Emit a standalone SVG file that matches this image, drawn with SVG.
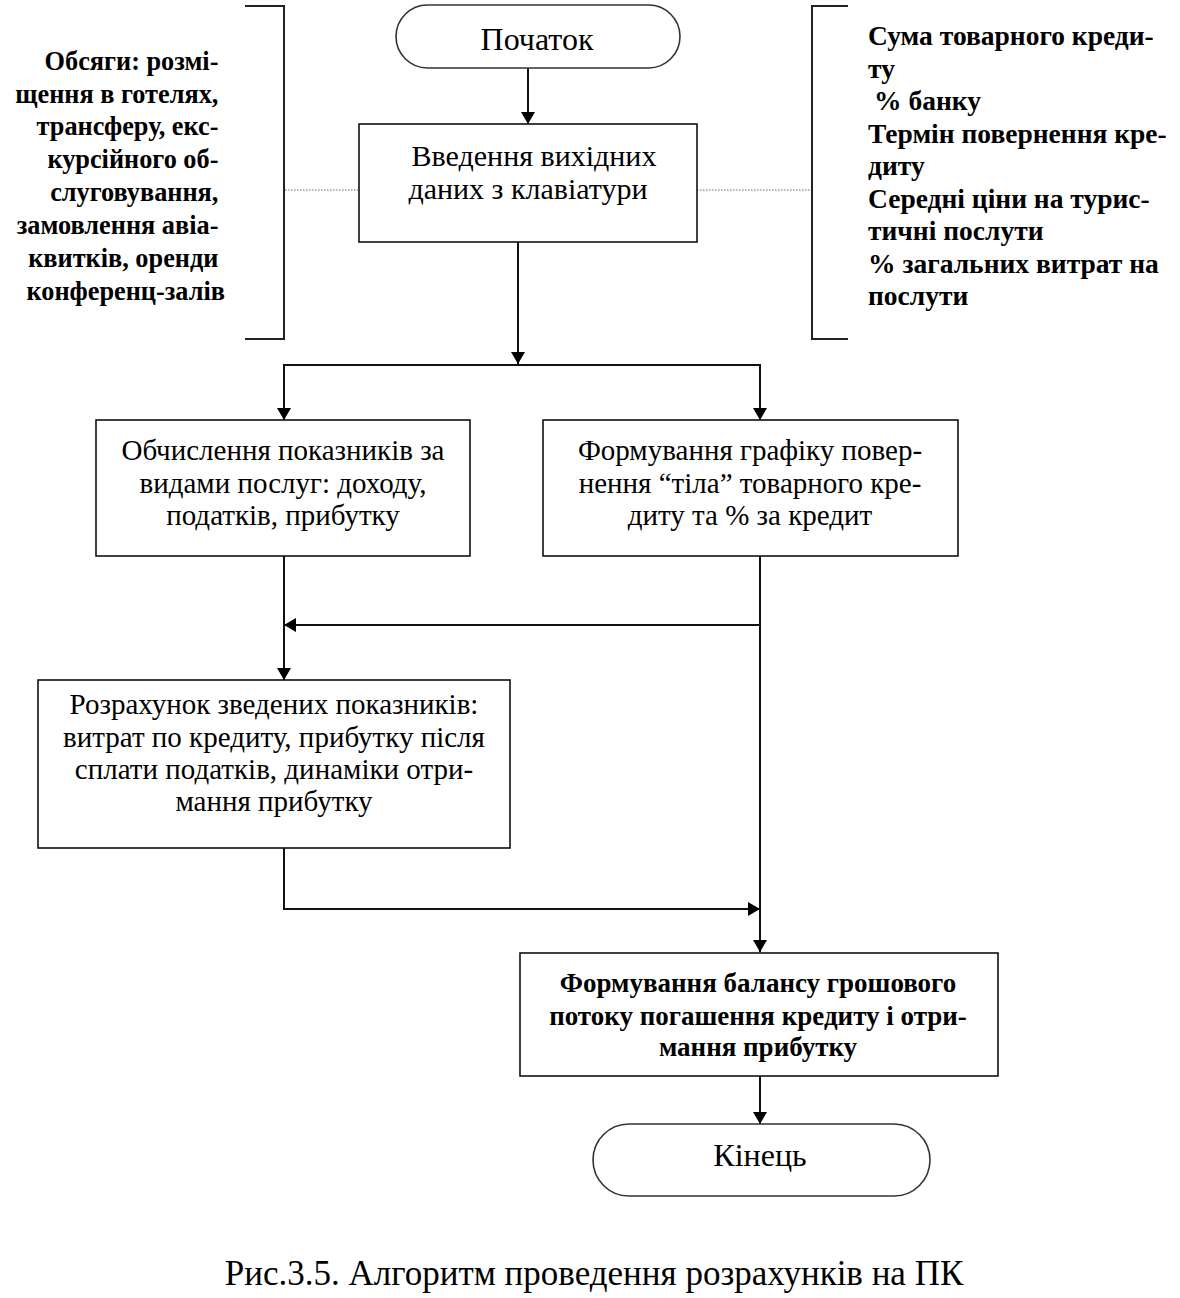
<svg xmlns="http://www.w3.org/2000/svg" width="1180" height="1298" viewBox="0 0 1180 1298">
<style>
.box{fill:#fff;stroke:#111;stroke-width:1.6}
.term{fill:#fff;stroke:#333;stroke-width:1.6}
.ln{fill:none;stroke:#111;stroke-width:2}
.br{fill:none;stroke:#222;stroke-width:2}
.dot{fill:none;stroke:#666;stroke-width:1;stroke-dasharray:1.5 1.5}
.t{font-family:"Liberation Serif","Times New Roman",serif;font-size:29px;fill:#000;text-anchor:middle}
.t30{font-size:30px}
.t32{font-size:32px}
.bl{font-family:"Liberation Serif","Times New Roman",serif;font-size:26.3px;font-weight:bold;fill:#000;text-anchor:end}
.brt{font-family:"Liberation Serif","Times New Roman",serif;font-size:27.5px;font-weight:bold;fill:#000}
.fb{font-family:"Liberation Serif","Times New Roman",serif;font-size:27px;font-weight:bold;fill:#000;text-anchor:middle}
.cap{font-family:"Liberation Serif","Times New Roman",serif;font-size:35px;fill:#000;text-anchor:middle}
</style>
<defs>
<marker id="ah" viewBox="0 0 12 16" refX="12" refY="8" markerWidth="12" markerHeight="16" markerUnits="userSpaceOnUse" orient="auto">
<path d="M0,1 L12,8 L0,15 Z" fill="#000"/>
</marker>
</defs>
<rect width="1180" height="1298" fill="#fff"/>

<g id="connectors">
<line class="ln" x1="528" y1="68" x2="528" y2="124" marker-end="url(#ah)"/>
<line class="ln" x1="518" y1="242" x2="518" y2="364" marker-end="url(#ah)"/>
<polyline class="ln" points="284,420 284,365 760,365 760,420" marker-end="url(#ah)"/>
<line class="ln" x1="284" y1="365" x2="284" y2="420" marker-end="url(#ah)"/>
<line class="ln" x1="284" y1="556" x2="284" y2="680" marker-end="url(#ah)"/>
<line class="ln" x1="760" y1="556" x2="760" y2="952" marker-end="url(#ah)"/>
<line class="ln" x1="760" y1="625" x2="284" y2="625" marker-end="url(#ah)"/>
<polyline class="ln" points="284,848 284,909 760,909" marker-end="url(#ah)"/>
<line class="ln" x1="760" y1="1076" x2="760" y2="1124" marker-end="url(#ah)"/>
<line class="dot" x1="285" y1="190" x2="359" y2="190"/>
<line class="dot" x1="697" y1="190" x2="812" y2="190"/>
</g>

<g id="left-note">
<polyline class="br" points="245,6 284,6 284,339 245,339"/>
<text class="bl">
<tspan x="225" y="70">Обсяги:  розмі-</tspan>
<tspan x="225" y="103">щення в готелях,</tspan>
<tspan x="225" y="135">трансферу, екс-</tspan>
<tspan x="225" y="168">курсійного об-</tspan>
<tspan x="225" y="201">слуговування,</tspan>
<tspan x="225" y="234">замовлення авіа-</tspan>
<tspan x="225" y="267">квитків, оренди</tspan>
<tspan x="225" y="300">конференц-залів</tspan>
</text>
</g>

<g id="right-note">
<polyline class="br" points="848,6 812,6 812,339 848,339"/>
<text class="brt">
<tspan x="868" y="45">Сума товарного креди-</tspan>
<tspan x="868" y="78">ту</tspan>
<tspan x="874" y="110">% банку</tspan>
<tspan x="868" y="143">Термін повернення кре-</tspan>
<tspan x="868" y="175">диту</tspan>
<tspan x="868" y="208">Середні ціни на турис-</tspan>
<tspan x="868" y="240">тичні послути</tspan>
<tspan x="868" y="273">% загальних витрат на</tspan>
<tspan x="868" y="305">послути</tspan>
</text>
</g>

<g id="start">
<rect class="term" x="396" y="5" width="284" height="63" rx="31.5" ry="31.5"/>
<text class="t t32" x="537" y="50">Початок</text>
</g>

<g id="input">
<rect class="box" x="359" y="124" width="338" height="118"/>
<text class="t t30"><tspan x="534" y="166">Введення вихідних</tspan><tspan x="528" y="199">даних з клавіатури</tspan></text>
</g>

<g id="calc">
<rect class="box" x="96" y="420" width="374" height="136"/>
<text class="t"><tspan x="283" y="460">Обчислення показників за</tspan><tspan x="283" y="493">видами послуг: доходу,</tspan><tspan x="283" y="525">податків, прибутку</tspan></text>
</g>

<g id="schedule">
<rect class="box" x="543" y="420" width="415" height="136"/>
<text class="t"><tspan x="750" y="460">Формування графіку повер-</tspan><tspan x="750" y="493">нення “тіла”  товарного кре-</tspan><tspan x="750" y="525">диту та % за кредит</tspan></text>
</g>

<g id="summary">
<rect class="box" x="38" y="680" width="472" height="168"/>
<text class="t"><tspan x="274" y="714">Розрахунок зведених показників:</tspan><tspan x="274" y="747">витрат по кредиту, прибутку після</tspan><tspan x="274" y="779">сплати податків, динаміки отри-</tspan><tspan x="274" y="811">мання прибутку</tspan></text>
</g>

<g id="balance">
<rect class="box" x="520" y="953" width="478" height="123"/>
<text class="fb"><tspan x="758" y="992">Формування балансу грошового</tspan><tspan x="758" y="1025">потоку погашення кредиту і отри-</tspan><tspan x="758" y="1056">мання прибутку</tspan></text>
</g>

<g id="end">
<rect class="term" x="593" y="1124" width="337" height="72" rx="36" ry="36"/>
<text class="t t32" x="760" y="1166">Кінець</text>
</g>

<text class="cap" x="594" y="1285">Рис.3.5. Алгоритм проведення розрахунків на ПК</text>
</svg>
